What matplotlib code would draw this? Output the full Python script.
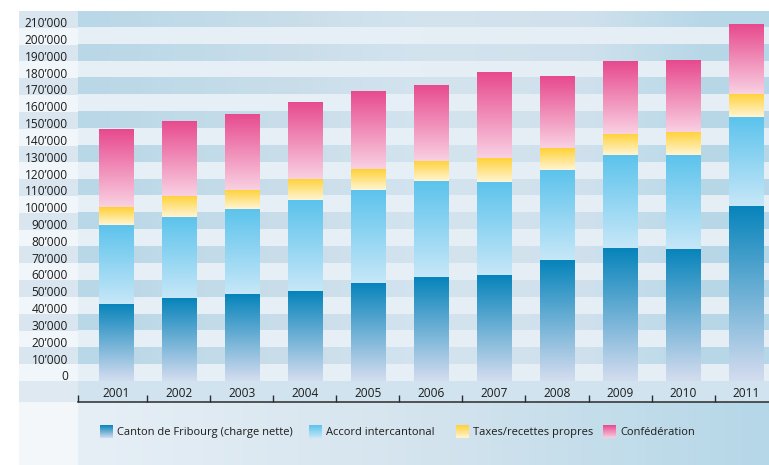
import numpy as np
import matplotlib
matplotlib.use("Agg")
import matplotlib.pyplot as plt
from matplotlib.colors import to_rgb
from matplotlib.transforms import ScaledTranslation

plt.rcParams['font.family'] = ['Open Sans', 'DejaVu Sans']

# data (CHF)
years = ['2001', '2002', '2003', '2004', '2005', '2006', '2007', '2008', '2009', '2010', '2011']
canton = [45800, 49300, 51700, 53500, 58300, 61800, 62800, 71900, 79000, 78500, 104200]
accord = [47000, 48200, 50600, 54100, 55300, 57100, 55500, 53600, 55400, 55900, 52800]
taxes = [10700, 12500, 11300, 12500, 12400, 11900, 14300, 13000, 12600, 13800, 13700]
confed = [46300, 44600, 45200, 45800, 46400, 45200, 51100, 42800, 43300, 42700, 41600]
series_names = ['Canton de Fribourg (charge nette)', 'Accord intercantonal',
                'Taxes/recettes propres', 'Confédération']
yticks = np.arange(0, 210001, 10000)
ytick_labels = ['0'] + [f"{v // 1000}\u2019000" for v in yticks[1:]]

# gradient colours (top, bottom) per series
grads = [('#0784bb', '#d3dcef'), ('#5cc3ec', '#c6e7f8'),
         ('#ffd136', '#fff5d4'), ('#e74a8e', '#f9d0e2')]

W, H = 769, 465
fig = plt.figure(figsize=(W / 100, H / 100), dpi=100)
fig.patch.set_facecolor('white')


def px_axes(x0, y0, x1, y1):
    # pixel box (top-left origin) -> axes
    return fig.add_axes([x0 / W, 1 - y1 / H, (x1 - x0) / W, (y1 - y0) / H])


def vgrad(top, bottom, n=64):
    t = np.linspace(0, 1, n)[:, None]
    a, b = np.array(to_rgb(top)), np.array(to_rgb(bottom))
    return (a * (1 - t) + b * t)[:, None, :]


def hgrad(stops, n=350):
    xs = np.linspace(0, 1, n)
    pos = [p for p, _ in stops]
    cols = np.array([to_rgb(c) for _, c in stops])
    return np.stack([np.interp(xs, pos, cols[:, k]) for k in range(3)], axis=-1)


ymin = -12486
ymax = 220000
xl, xr = -0.603, 10.365
nb = 22  # background bands of 10'000

# left column with labels
axl = px_axes(19, 11, 78, 402)
axl.axis('off')
axl.axhspan(ymin, 0, color='#dfe9f2', lw=0)
for i in range(nb):
    axl.axhspan(i * 10000, (i + 1) * 10000, color='#d9e6f0' if i % 2 else '#f1f6fa', lw=0)
for v, lab in zip(yticks, ytick_labels):
    axl.text(0.83, v + 400, lab, ha='right', va='baseline', fontsize=8.6, color='#1d1d1b',
             transform=axl.get_yaxis_transform())
axl.set_xlim(0, 1)
axl.set_ylim(ymin, ymax)

# legend row
axb = px_axes(19, 402, 769, 465)
axb.axis('off')
axb.axvspan(19, 78, color='#f3f7fa', lw=0)
axb.imshow(hgrad([(0, '#e7eff6'), (0.5, '#d4e4ee'), (1, '#b5d7e8')])[None, :, :],
           extent=(78, 769, 465, 402), aspect='auto', interpolation='bilinear')
leg_x = [100, 309, 456, 603]
for x, name, (c1, c2) in zip(leg_x, series_names, grads):
    axb.imshow(vgrad(c1, c2), extent=(x, x + 13, 438, 425), aspect='auto', interpolation='bilinear')
    axb.text(x + 17, 432, name, ha='left', va='center', fontsize=8.0, color='#1d1d1b')
axb.set_xlim(19, 769)
axb.set_ylim(465, 402)

# main plot
ax = px_axes(78, 11, 769, 402)
band_img = hgrad([(0, '#b8d7e7'), (0.32, '#cadeea'), (0.5, '#d3e4ef'),
                  (0.73, '#d0e1ed'), (0.9, '#b8d8e8'), (1, '#b5d7e7')])
light_img = hgrad([(0, '#e8f0f7'), (1, '#e5eef5')])
bg = np.stack([band_img if i % 2 else light_img for i in range(nb)][::-1])
ax.imshow(bg, extent=(xl, xr, 0, nb * 10000), aspect='auto', interpolation='nearest', zorder=0)
ax.axhspan(ymin, 0, color='#d0e3ef', lw=0, zorder=0)

x = np.arange(len(years))
bottom = np.zeros(len(years))
for vals, (c1, c2) in zip([canton, accord, taxes, confed], grads):
    bars = ax.bar(x, vals, 0.54, bottom=bottom, color=c1, lw=0, zorder=2)
    for r in bars:
        x0, y0 = r.get_x(), r.get_y()
        im = ax.imshow(vgrad(c1, c2), extent=(x0, x0 + r.get_width(), y0, y0 + r.get_height()),
                       aspect='auto', interpolation='bilinear', zorder=3)
        im.set_clip_path(r)
    bottom += np.array(vals)

ax.set_xlim(xl, xr)
ax.set_ylim(ymin, ymax)
for s in ['top', 'right', 'left']:
    ax.spines[s].set_visible(False)
ax.spines['bottom'].set_color('#2b2b2b')
ax.spines['bottom'].set_linewidth(1.1)
ax.set_yticks([])
ax.set_xticks(x)
ax.set_xticklabels(years, fontsize=8.6, color='#1d1d1b')
ax.tick_params(axis='x', which='major', length=0, pad=0)
for lab in ax.get_xticklabels():
    lab.set_verticalalignment('center')
    lab.set_transform(lab.get_transform() + ScaledTranslation(0, 0.09, fig.dpi_scale_trans))
ax.set_xticks([xl] + list(x[:-1] + 0.5), minor=True)
ax.tick_params(axis='x', which='minor', direction='in', length=5, width=1, color='#2b2b2b')

fig.savefig('out.png', dpi=100, facecolor='white')
